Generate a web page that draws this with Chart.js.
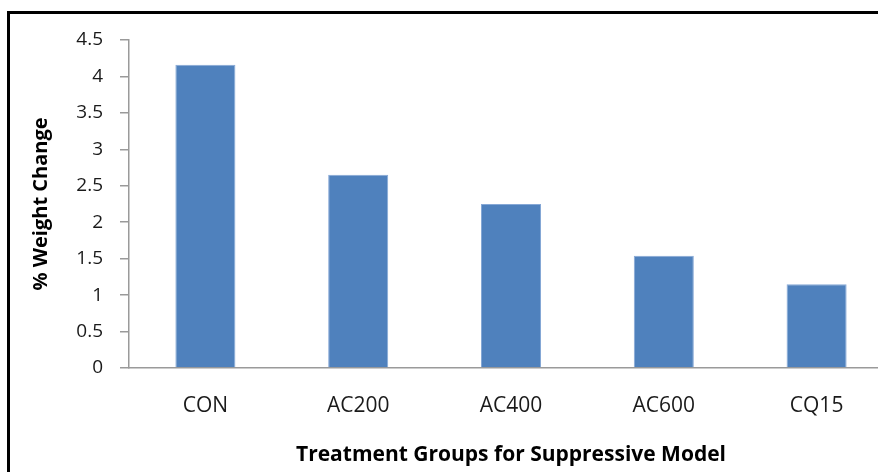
<!DOCTYPE html>
<html>
<head>
<meta charset="utf-8">
<title>% Weight Change by Treatment Group</title>
<script src="https://cdn.jsdelivr.net/npm/chart.js@4.4.1/dist/chart.umd.min.js"></script>
<style>
  html, body { margin: 0; padding: 0; background: #ffffff; overflow: hidden; width: 878px; height: 472px; }
  #wrap { position: relative; width: 878px; height: 472px; overflow: hidden; }
  #frame { position: absolute; left: 7px; top: 11px; width: 2000px; height: 2000px; border: 3px solid #000; box-sizing: border-box; pointer-events: none; }
  canvas { position: absolute; left: 0; top: 0; }
</style>
</head>
<body>
<div id="wrap">
  <canvas id="chart" width="920" height="472"></canvas>
  <div id="frame"></div>
</div>
<script>
// Treatment groups and their mean % weight change
const categories = ['CON', 'AC200', 'AC400', 'AC600', 'CQ15'];
const weightChange = [4.16, 2.65, 2.25, 1.54, 1.15];

// Value axis range
const yMin = 0;
const yMax = 4.5;
const yStep = 0.5;

const xTitle = 'Treatment Groups for Suppressive Model';
const yTitle = '% Weight Change';

const FONT = "'Open Sans', 'DejaVu Sans', sans-serif";
const TEXT = '#1a1a1a';
const AXIS = '#9a9a9a';

const PLOT_LEFT = 129;
const PLOT_BOTTOM = 368;
const CANVAS_H = 472;

new Chart(document.getElementById('chart'), {
  type: 'bar',
  data: {
    labels: categories,
    datasets: [{
      data: weightChange,
      backgroundColor: '#4f81bd',
      borderColor: '#86a8d6',
      borderWidth: 1,
      categoryPercentage: 1,
      barPercentage: 0.393
    }]
  },
  options: {
    responsive: false,
    animation: false,
    devicePixelRatio: 1,
    layout: { padding: { left: 0, top: 40, right: 27, bottom: 0 } },
    plugins: {
      legend: { display: false },
      tooltip: { enabled: false }
    },
    scales: {
      x: {
        offset: true,
        grid: { display: false, drawTicks: false },
        border: { display: true, color: AXIS, width: 1.5 },
        ticks: {
          color: TEXT,
          padding: 25,
          font: { family: FONT, size: 21 }
        },
        title: {
          display: true,
          text: xTitle,
          color: '#000',
          padding: { top: 0, bottom: 4 },
          font: { family: FONT, size: 21, weight: 'bold' }
        },
        afterFit(scale) { scale.height = CANVAS_H - PLOT_BOTTOM; }
      },
      y: {
        min: yMin,
        max: yMax,
        grid: {
          display: true,
          drawOnChartArea: false,
          drawTicks: true,
          tickLength: 9,
          color: AXIS,
          lineWidth: 1.5
        },
        border: { display: true, color: AXIS, width: 1.5 },
        ticks: {
          stepSize: yStep,
          color: TEXT,
          padding: 17,
          font: { family: FONT, size: 19 },
          callback: (v) => String(Math.round(v * 10) / 10)
        },
        title: {
          display: true,
          text: yTitle,
          color: '#000',
          padding: { top: 29, bottom: 0 },
          font: { family: FONT, size: 20, weight: 'bold' }
        },
        afterFit(scale) { scale.width = PLOT_LEFT; }
      }
    }
  }
});
</script>
</body>
</html>
